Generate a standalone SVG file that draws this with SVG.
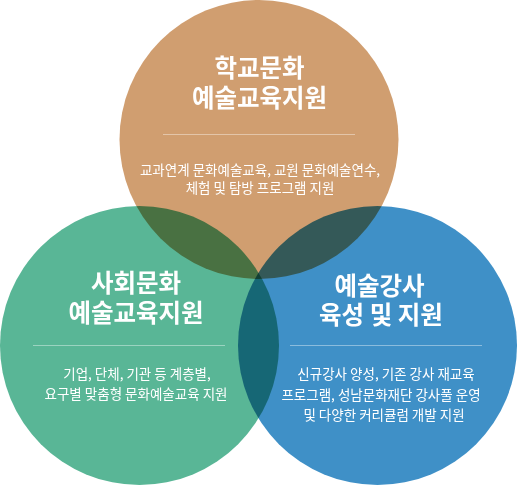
<svg xmlns="http://www.w3.org/2000/svg" width="518" height="486" viewBox="0 0 518 486">
<style>
  .c { mix-blend-mode: multiply; }
  .t { font-family: "Noto Sans CJK KR", "Noto Sans", sans-serif; fill: #ffffff; text-anchor: middle; }
  .h { font-size: 24.5px; font-weight: 700; }
  .s { font-size: 13.5px; }
  .d { stroke: #ffffff; stroke-opacity: 0.4; stroke-width: 1; }
</style>
<rect width="518" height="486" fill="#ffffff"/>
<g id="node-school">
  <circle class="c" cx="259" cy="139.5" r="139.5" fill="#D09E70"/>
  <text class="t h"><tspan x="259.5" y="77">학교문화</tspan><tspan x="259.5" y="107">예술교육지원</tspan></text>
  <line class="d" x1="163" y1="134.5" x2="355" y2="134.5"/>
  <text class="t s"><tspan x="260" y="174.5">교과연계 문화예술교육, 교원 문화예술연수,</tspan><tspan x="260" y="193">체험 및 탐방 프로그램 지원</tspan></text>
</g>
<g id="node-social">
  <circle class="c" cx="139.5" cy="345.5" r="139.5" fill="#59B696"/>
  <text class="t h"><tspan x="136" y="291.5">사회문화</tspan><tspan x="136" y="322">예술교육지원</tspan></text>
  <line class="d" x1="33" y1="345.5" x2="225" y2="345.5"/>
  <text class="t s"><tspan x="137" y="378.5">기업, 단체, 기관 등 계층별,</tspan><tspan x="136" y="399">요구별 맞춤형 문화예술교육 지원</tspan></text>
</g>
<g id="node-instructor">
  <circle class="c" cx="377.5" cy="345.5" r="139.5" fill="#3F90C7"/>
  <text class="t h"><tspan x="379.5" y="294.5">예술강사</tspan><tspan x="381" y="323.5">육성 및 지원</tspan></text>
  <line class="d" x1="290" y1="345.5" x2="482" y2="345.5"/>
  <text class="t s"><tspan x="386" y="379">신규강사 양성, 기존 강사 재교육</tspan><tspan x="381" y="400">프로그램, 성남문화재단 강사풀 운영</tspan><tspan x="384" y="419.5">및 다양한 커리큘럼 개발 지원</tspan></text>
</g>
</svg>
